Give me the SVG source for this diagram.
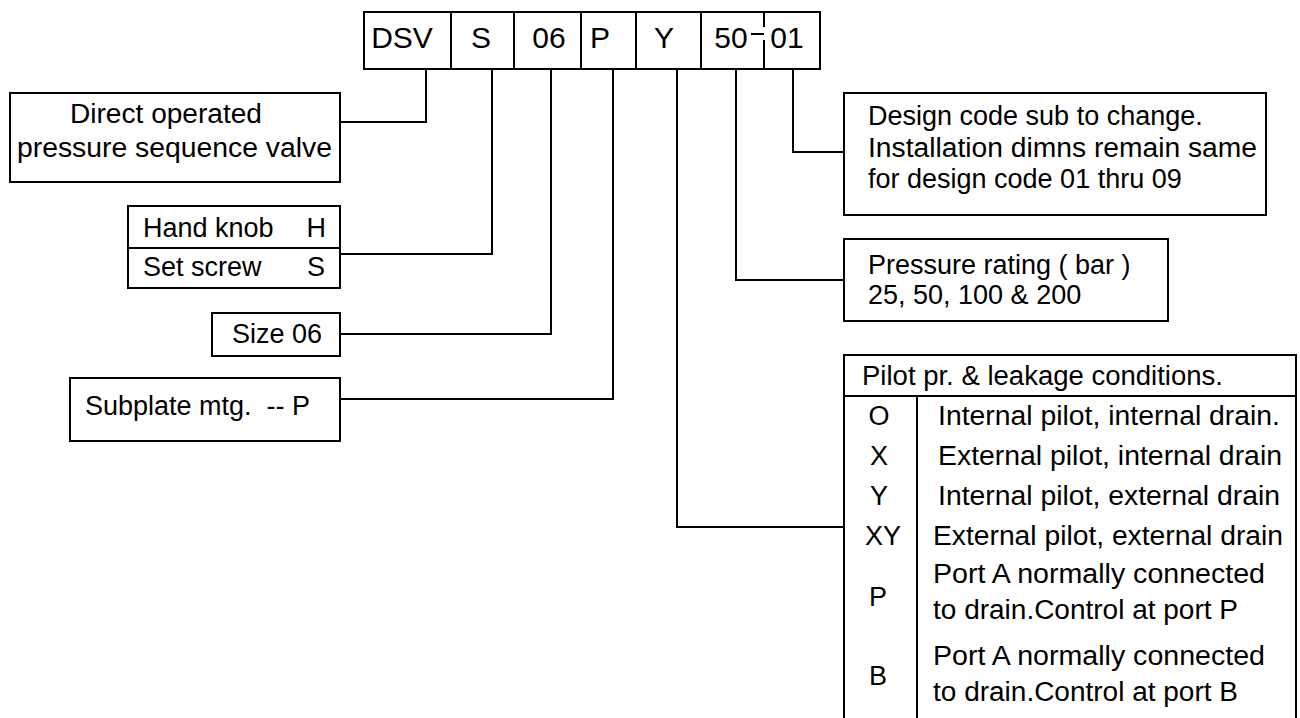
<svg xmlns="http://www.w3.org/2000/svg" width="1300" height="718" viewBox="0 0 1300 718">
<style>
.b{fill:#fff;stroke:#000;stroke-width:2}
.l{fill:none;stroke:#000;stroke-width:2}
text{font-family:"Liberation Sans",Arial,sans-serif;font-size:27px;fill:#000}
.c{font-size:30px;text-anchor:middle}
.m{text-anchor:middle}
.e{text-anchor:end}
</style>
<rect width="1300" height="718" fill="#fff"/>
<g id="code">
<rect class="b" x="364" y="12" width="456" height="57"/>
<path class="l" d="M451,12V69M514,12V69M581,12V69M636,12V69M701,12V69M764,12V27M764,40V69M751,34H764"/>
<text class="c" x="402" y="48">DSV</text>
<text class="c" x="481" y="48">S</text>
<text class="c" x="549" y="48">06</text>
<text class="c" x="600" y="48">P</text>
<text class="c" x="664" y="48">Y</text>
<text class="c" x="731" y="48">50</text>
<text class="c" x="787" y="48">01</text>
</g>
<g id="connectors">
<polyline class="l" points="426,69 426,122 340,122"/>
<polyline class="l" points="492,69 492,254 340,254"/>
<polyline class="l" points="551,69 551,334 340,334"/>
<polyline class="l" points="613,69 613,399 340,399"/>
<polyline class="l" points="677,69 677,527 844,527"/>
<polyline class="l" points="736,69 736,280 844,280"/>
<polyline class="l" points="793,69 793,152 844,152"/>
</g>
<g id="type">
<rect class="b" x="10" y="93" width="330" height="89"/>
<text x="70" y="123" textLength="192" lengthAdjust="spacingAndGlyphs">Direct operated</text>
<text x="17" y="157" textLength="315" lengthAdjust="spacingAndGlyphs">pressure sequence valve</text>
</g>
<g id="adjust">
<rect class="b" x="128" y="206" width="212" height="82"/>
<path class="l" d="M128,248H340"/>
<text x="143" y="237">Hand knob</text>
<text class="e" x="326" y="237">H</text>
<text x="143" y="276">Set screw</text>
<text class="e" x="325" y="276">S</text>
</g>
<g id="size">
<rect class="b" x="212" y="313" width="128" height="43"/>
<text x="232" y="343">Size 06</text>
</g>
<g id="mounting">
<rect class="b" x="70" y="378" width="270" height="63"/>
<text x="85" y="415" xml:space="preserve">Subplate mtg.  -- P</text>
</g>
<g id="design">
<rect class="b" x="844" y="93" width="422" height="122"/>
<text x="868" y="125">Design code sub to change.</text>
<text x="868" y="157" textLength="389" lengthAdjust="spacingAndGlyphs">Installation dimns remain same</text>
<text x="868" y="188">for design code 01 thru 09</text>
</g>
<g id="pressure">
<rect class="b" x="844" y="239" width="324" height="82"/>
<text x="868" y="274">Pressure rating ( bar )</text>
<text x="868" y="304">25, 50, 100 &amp; 200</text>
</g>
<g id="pilot">
<path class="l" d="M844,718V355H1296V718M844,396H1296M917,396V718"/>
<text x="862" y="385" textLength="361" lengthAdjust="spacingAndGlyphs">Pilot pr. &amp; leakage conditions.</text>
<text class="m" x="879" y="425">O</text>
<text x="938" y="425" textLength="342" lengthAdjust="spacingAndGlyphs">Internal pilot, internal drain.</text>
<text class="m" x="879" y="465">X</text>
<text x="938" y="465" textLength="344" lengthAdjust="spacingAndGlyphs">External pilot, internal drain</text>
<text class="m" x="879" y="505">Y</text>
<text x="938" y="505" textLength="342" lengthAdjust="spacingAndGlyphs">Internal pilot, external drain</text>
<text class="m" x="883" y="545">XY</text>
<text x="933" y="545" textLength="350" lengthAdjust="spacingAndGlyphs">External pilot, external drain</text>
<text class="m" x="878" y="606">P</text>
<text x="933" y="583" textLength="332" lengthAdjust="spacingAndGlyphs">Port A normally connected</text>
<text x="933" y="619" textLength="305" lengthAdjust="spacingAndGlyphs">to drain.Control at port P</text>
<text class="m" x="878" y="685">B</text>
<text x="933" y="665" textLength="332" lengthAdjust="spacingAndGlyphs">Port A normally connected</text>
<text x="933" y="701" textLength="305" lengthAdjust="spacingAndGlyphs">to drain.Control at port B</text>
</g>
</svg>
